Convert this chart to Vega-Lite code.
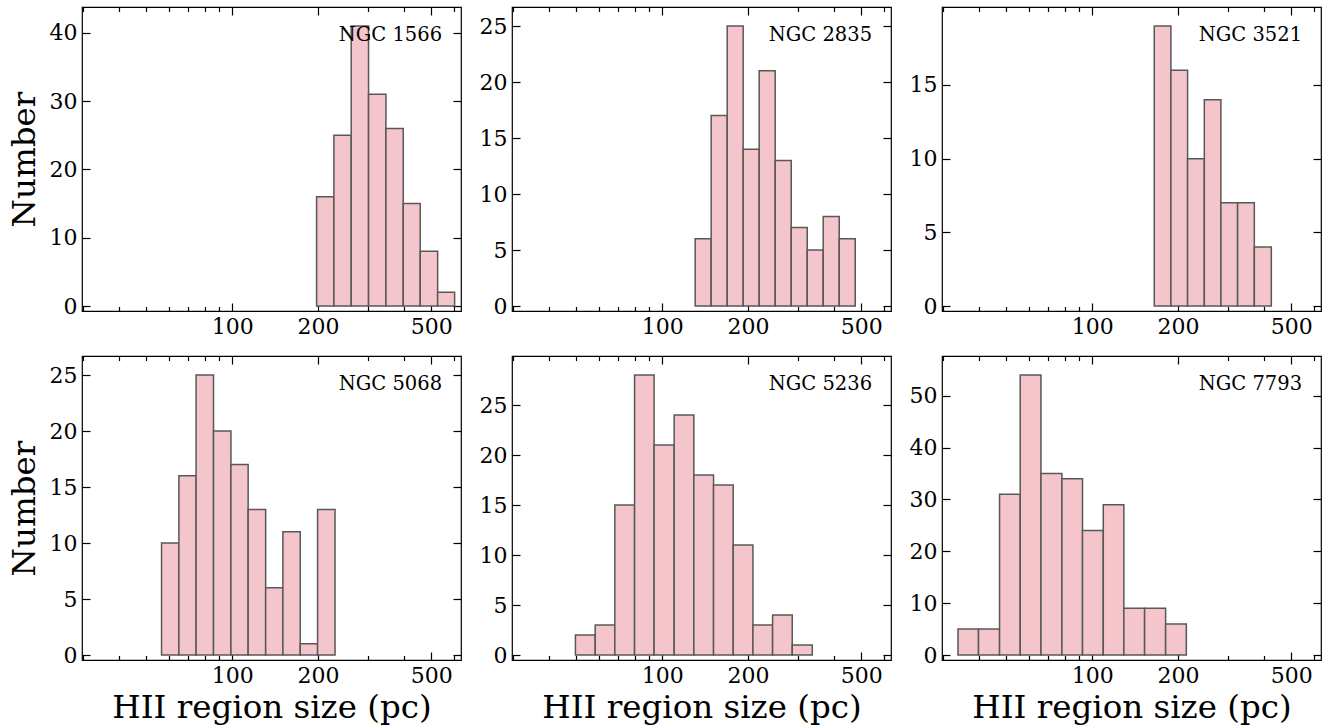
{
 "$schema": "https://vega.github.io/schema/vega-lite/v6.json",
 "background": "white",
 "padding": {"left": 7, "top": 5, "right": 5, "bottom": 5},
 "config": {
  "font": "DejaVu Serif",
  "view": {"stroke": "#000", "strokeWidth": 1.2},
  "axis": {"grid": false, "domain": false, "tickColor": "#000", "tickWidth": 1.2, "tickSize": -8, "labelFont": "DejaVu Serif", "labelFontSize": 22, "labelColor": "#000", "labelPadding": 13, "titleFont": "DejaVu Serif", "titleFontSize": 32.5, "titleFontWeight": "normal", "titleColor": "#000", "titlePadding": 8},
  "axisBottom": {"titlePadding": 5}
 },
 "datasets": {
  "d1": [{"lo":197.9,"hi":227.6,"n":16},{"lo":227.6,"hi":261.8,"n":25},{"lo":261.8,"hi":301.2,"n":41},{"lo":301.2,"hi":346.6,"n":31},{"lo":346.6,"hi":398.7,"n":26},{"lo":398.7,"hi":457.4,"n":15},{"lo":457.4,"hi":526.6,"n":8},{"lo":526.6,"hi":604,"n":2}],
  "d2": [{"lo":130.6,"hi":148.6,"n":6},{"lo":148.6,"hi":169.2,"n":17},{"lo":169.2,"hi":192.5,"n":25},{"lo":192.5,"hi":219.1,"n":14},{"lo":219.1,"hi":249.4,"n":21},{"lo":249.4,"hi":283.9,"n":13},{"lo":283.9,"hi":323.1,"n":7},{"lo":323.1,"hi":367.7,"n":5},{"lo":367.7,"hi":418.5,"n":8},{"lo":418.5,"hi":476.3,"n":6}],
  "d3": [{"lo":165.2,"hi":189.0,"n":19},{"lo":189.0,"hi":216.3,"n":16},{"lo":216.3,"hi":247.6,"n":10},{"lo":247.6,"hi":283.1,"n":14},{"lo":283.1,"hi":324.1,"n":7},{"lo":324.1,"hi":371.0,"n":7},{"lo":371.0,"hi":425.6,"n":4}],
  "d4": [{"lo":56.5,"hi":65.0,"n":10},{"lo":65.0,"hi":74.7,"n":16},{"lo":74.7,"hi":86.0,"n":25},{"lo":86.0,"hi":99.0,"n":20},{"lo":99.0,"hi":113.8,"n":17},{"lo":113.8,"hi":131.1,"n":13},{"lo":131.1,"hi":150.7,"n":6},{"lo":150.7,"hi":173.4,"n":11},{"lo":173.4,"hi":199.5,"n":1},{"lo":199.5,"hi":229.7,"n":13}],
  "d5": [{"lo":49.6,"hi":58.2,"n":2},{"lo":58.2,"hi":68.2,"n":3},{"lo":68.2,"hi":80.0,"n":15},{"lo":80.0,"hi":93.7,"n":28},{"lo":93.7,"hi":110.2,"n":21},{"lo":110.2,"hi":129.2,"n":24},{"lo":129.2,"hi":151.5,"n":18},{"lo":151.5,"hi":177.6,"n":17},{"lo":177.6,"hi":208.3,"n":11},{"lo":208.3,"hi":244.2,"n":3},{"lo":244.2,"hi":286.2,"n":4},{"lo":286.2,"hi":336.5,"n":1}],
  "d6": [{"lo":33.8,"hi":39.9,"n":5},{"lo":39.9,"hi":47.3,"n":5},{"lo":47.3,"hi":55.9,"n":31},{"lo":55.9,"hi":66.1,"n":54},{"lo":66.1,"hi":78.3,"n":35},{"lo":78.3,"hi":92.5,"n":34},{"lo":92.5,"hi":109.4,"n":24},{"lo":109.4,"hi":129.2,"n":29},{"lo":129.2,"hi":152.8,"n":9},{"lo":152.8,"hi":181.1,"n":9},{"lo":181.1,"hi":214.1,"n":6}]
 },
 "columns": 3,
 "spacing": {"row": 45, "column": 51},
 "bounds": "flush",
 "concat": [
  {"width": 379, "height": 304, "data": {"name": "d1"},
   "layer": [
    {"mark": {"type": "bar", "fill": "#f5c5cc", "stroke": "#585858", "strokeWidth": 1.5},
     "encoding": {"x": {"field": "lo", "type": "quantitative", "scale": {"type": "log", "domain": [29.7, 636], "nice": false}, "axis": {"orient": "bottom", "values": [100, 200, 500], "format": "d", "title": null}},
      "x2": {"field": "hi"},
      "y": {"field": "n", "type": "quantitative", "scale": {"domain": [0, 43.05], "nice": false}, "axis": {"orient": "left", "values": [0, 10, 20, 30, 40], "format": "d", "title": "Number"}},
      "y2": {"datum": 0}}},
    {"mark": {"type": "bar", "opacity": 0},
     "encoding": {"x": {"field": "lo", "type": "quantitative", "scale": {"type": "log", "domain": [29.7, 636], "nice": false}, "axis": {"orient": "bottom", "values": [30, 40, 50, 60, 70, 80, 90, 300, 400, 600], "labels": false, "tickSize": -4.5, "title": null}},
      "x2": {"field": "hi"},
      "y": {"field": "n", "type": "quantitative", "scale": {"domain": [0, 43.05], "nice": false}, "axis": {"orient": "right", "values": [0, 10, 20, 30, 40], "labels": false, "title": null}}}},
    {"mark": {"type": "bar", "opacity": 0},
     "encoding": {"x": {"field": "lo", "type": "quantitative", "scale": {"type": "log", "domain": [29.7, 636], "nice": false}, "axis": {"orient": "top", "values": [100, 200, 500], "labels": false, "title": null}},
      "x2": {"field": "hi"},
      "y": {"field": "n", "type": "quantitative", "scale": {"domain": [0, 43.05], "nice": false}, "axis": null}}},
    {"mark": {"type": "bar", "opacity": 0},
     "encoding": {"x": {"field": "lo", "type": "quantitative", "scale": {"type": "log", "domain": [29.7, 636], "nice": false}, "axis": {"orient": "top", "values": [30, 40, 50, 60, 70, 80, 90, 300, 400, 600], "labels": false, "tickSize": -4.5, "title": null}},
      "x2": {"field": "hi"},
      "y": {"field": "n", "type": "quantitative", "scale": {"domain": [0, 43.05], "nice": false}, "axis": null}}},
    {"data": {"values": [{"g": "NGC 1566"}]},
     "mark": {"type": "text", "align": "right", "baseline": "alphabetic", "font": "DejaVu Serif", "fontSize": 19.5, "color": "#000"},
     "encoding": {"x": {"datum": 545.8, "type": "quantitative", "scale": {"type": "log", "domain": [29.7, 636], "nice": false}, "axis": null},
      "y": {"datum": 38.8, "type": "quantitative", "scale": {"domain": [0, 43.05], "nice": false}, "axis": null},
      "text": {"field": "g"}}}
   ],
   "resolve": {"axis": {"x": "independent", "y": "independent"}}},
  {"width": 379, "height": 304, "data": {"name": "d2"},
   "layer": [
    {"mark": {"type": "bar", "fill": "#f5c5cc", "stroke": "#585858", "strokeWidth": 1.5},
     "encoding": {"x": {"field": "lo", "type": "quantitative", "scale": {"type": "log", "domain": [29.7, 636], "nice": false}, "axis": {"orient": "bottom", "values": [100, 200, 500], "format": "d", "title": null}},
      "x2": {"field": "hi"},
      "y": {"field": "n", "type": "quantitative", "scale": {"domain": [0, 26.25], "nice": false}, "axis": {"orient": "left", "values": [0, 5, 10, 15, 20, 25], "format": "d", "title": null}},
      "y2": {"datum": 0}}},
    {"mark": {"type": "bar", "opacity": 0},
     "encoding": {"x": {"field": "lo", "type": "quantitative", "scale": {"type": "log", "domain": [29.7, 636], "nice": false}, "axis": {"orient": "bottom", "values": [30, 40, 50, 60, 70, 80, 90, 300, 400, 600], "labels": false, "tickSize": -4.5, "title": null}},
      "x2": {"field": "hi"},
      "y": {"field": "n", "type": "quantitative", "scale": {"domain": [0, 26.25], "nice": false}, "axis": {"orient": "right", "values": [0, 5, 10, 15, 20, 25], "labels": false, "title": null}}}},
    {"mark": {"type": "bar", "opacity": 0},
     "encoding": {"x": {"field": "lo", "type": "quantitative", "scale": {"type": "log", "domain": [29.7, 636], "nice": false}, "axis": {"orient": "top", "values": [100, 200, 500], "labels": false, "title": null}},
      "x2": {"field": "hi"},
      "y": {"field": "n", "type": "quantitative", "scale": {"domain": [0, 26.25], "nice": false}, "axis": null}}},
    {"mark": {"type": "bar", "opacity": 0},
     "encoding": {"x": {"field": "lo", "type": "quantitative", "scale": {"type": "log", "domain": [29.7, 636], "nice": false}, "axis": {"orient": "top", "values": [30, 40, 50, 60, 70, 80, 90, 300, 400, 600], "labels": false, "tickSize": -4.5, "title": null}},
      "x2": {"field": "hi"},
      "y": {"field": "n", "type": "quantitative", "scale": {"domain": [0, 26.25], "nice": false}, "axis": null}}},
    {"data": {"values": [{"g": "NGC 2835"}]},
     "mark": {"type": "text", "align": "right", "baseline": "alphabetic", "font": "DejaVu Serif", "fontSize": 19.5, "color": "#000"},
     "encoding": {"x": {"datum": 545.8, "type": "quantitative", "scale": {"type": "log", "domain": [29.7, 636], "nice": false}, "axis": null},
      "y": {"datum": 23.65, "type": "quantitative", "scale": {"domain": [0, 26.25], "nice": false}, "axis": null},
      "text": {"field": "g"}}}
   ],
   "resolve": {"axis": {"x": "independent", "y": "independent"}}},
  {"width": 379, "height": 304, "data": {"name": "d3"},
   "layer": [
    {"mark": {"type": "bar", "fill": "#f5c5cc", "stroke": "#585858", "strokeWidth": 1.5},
     "encoding": {"x": {"field": "lo", "type": "quantitative", "scale": {"type": "log", "domain": [29.7, 636], "nice": false}, "axis": {"orient": "bottom", "values": [100, 200, 500], "format": "d", "title": null}},
      "x2": {"field": "hi"},
      "y": {"field": "n", "type": "quantitative", "scale": {"domain": [0, 19.95], "nice": false}, "axis": {"orient": "left", "values": [0, 5, 10, 15], "format": "d", "title": null}},
      "y2": {"datum": 0}}},
    {"mark": {"type": "bar", "opacity": 0},
     "encoding": {"x": {"field": "lo", "type": "quantitative", "scale": {"type": "log", "domain": [29.7, 636], "nice": false}, "axis": {"orient": "bottom", "values": [30, 40, 50, 60, 70, 80, 90, 300, 400, 600], "labels": false, "tickSize": -4.5, "title": null}},
      "x2": {"field": "hi"},
      "y": {"field": "n", "type": "quantitative", "scale": {"domain": [0, 19.95], "nice": false}, "axis": {"orient": "right", "values": [0, 5, 10, 15], "labels": false, "title": null}}}},
    {"mark": {"type": "bar", "opacity": 0},
     "encoding": {"x": {"field": "lo", "type": "quantitative", "scale": {"type": "log", "domain": [29.7, 636], "nice": false}, "axis": {"orient": "top", "values": [100, 200, 500], "labels": false, "title": null}},
      "x2": {"field": "hi"},
      "y": {"field": "n", "type": "quantitative", "scale": {"domain": [0, 19.95], "nice": false}, "axis": null}}},
    {"mark": {"type": "bar", "opacity": 0},
     "encoding": {"x": {"field": "lo", "type": "quantitative", "scale": {"type": "log", "domain": [29.7, 636], "nice": false}, "axis": {"orient": "top", "values": [30, 40, 50, 60, 70, 80, 90, 300, 400, 600], "labels": false, "tickSize": -4.5, "title": null}},
      "x2": {"field": "hi"},
      "y": {"field": "n", "type": "quantitative", "scale": {"domain": [0, 19.95], "nice": false}, "axis": null}}},
    {"data": {"values": [{"g": "NGC 3521"}]},
     "mark": {"type": "text", "align": "right", "baseline": "alphabetic", "font": "DejaVu Serif", "fontSize": 19.5, "color": "#000"},
     "encoding": {"x": {"datum": 545.8, "type": "quantitative", "scale": {"type": "log", "domain": [29.7, 636], "nice": false}, "axis": null},
      "y": {"datum": 17.97, "type": "quantitative", "scale": {"domain": [0, 19.95], "nice": false}, "axis": null},
      "text": {"field": "g"}}}
   ],
   "resolve": {"axis": {"x": "independent", "y": "independent"}}},
  {"width": 379, "height": 304, "data": {"name": "d4"},
   "layer": [
    {"mark": {"type": "bar", "fill": "#f5c5cc", "stroke": "#585858", "strokeWidth": 1.5},
     "encoding": {"x": {"field": "lo", "type": "quantitative", "scale": {"type": "log", "domain": [29.7, 636], "nice": false}, "axis": {"orient": "bottom", "values": [100, 200, 500], "format": "d", "title": "HII region size (pc)"}},
      "x2": {"field": "hi"},
      "y": {"field": "n", "type": "quantitative", "scale": {"domain": [0, 26.25], "nice": false}, "axis": {"orient": "left", "values": [0, 5, 10, 15, 20, 25], "format": "d", "title": "Number"}},
      "y2": {"datum": 0}}},
    {"mark": {"type": "bar", "opacity": 0},
     "encoding": {"x": {"field": "lo", "type": "quantitative", "scale": {"type": "log", "domain": [29.7, 636], "nice": false}, "axis": {"orient": "bottom", "values": [30, 40, 50, 60, 70, 80, 90, 300, 400, 600], "labels": false, "tickSize": -4.5, "title": null}},
      "x2": {"field": "hi"},
      "y": {"field": "n", "type": "quantitative", "scale": {"domain": [0, 26.25], "nice": false}, "axis": {"orient": "right", "values": [0, 5, 10, 15, 20, 25], "labels": false, "title": null}}}},
    {"mark": {"type": "bar", "opacity": 0},
     "encoding": {"x": {"field": "lo", "type": "quantitative", "scale": {"type": "log", "domain": [29.7, 636], "nice": false}, "axis": {"orient": "top", "values": [100, 200, 500], "labels": false, "title": null}},
      "x2": {"field": "hi"},
      "y": {"field": "n", "type": "quantitative", "scale": {"domain": [0, 26.25], "nice": false}, "axis": null}}},
    {"mark": {"type": "bar", "opacity": 0},
     "encoding": {"x": {"field": "lo", "type": "quantitative", "scale": {"type": "log", "domain": [29.7, 636], "nice": false}, "axis": {"orient": "top", "values": [30, 40, 50, 60, 70, 80, 90, 300, 400, 600], "labels": false, "tickSize": -4.5, "title": null}},
      "x2": {"field": "hi"},
      "y": {"field": "n", "type": "quantitative", "scale": {"domain": [0, 26.25], "nice": false}, "axis": null}}},
    {"data": {"values": [{"g": "NGC 5068"}]},
     "mark": {"type": "text", "align": "right", "baseline": "alphabetic", "font": "DejaVu Serif", "fontSize": 19.5, "color": "#000"},
     "encoding": {"x": {"datum": 545.8, "type": "quantitative", "scale": {"type": "log", "domain": [29.7, 636], "nice": false}, "axis": null},
      "y": {"datum": 23.65, "type": "quantitative", "scale": {"domain": [0, 26.25], "nice": false}, "axis": null},
      "text": {"field": "g"}}}
   ],
   "resolve": {"axis": {"x": "independent", "y": "independent"}}},
  {"width": 379, "height": 304, "data": {"name": "d5"},
   "layer": [
    {"mark": {"type": "bar", "fill": "#f5c5cc", "stroke": "#585858", "strokeWidth": 1.5},
     "encoding": {"x": {"field": "lo", "type": "quantitative", "scale": {"type": "log", "domain": [29.7, 636], "nice": false}, "axis": {"orient": "bottom", "values": [100, 200, 500], "format": "d", "title": "HII region size (pc)"}},
      "x2": {"field": "hi"},
      "y": {"field": "n", "type": "quantitative", "scale": {"domain": [0, 29.4], "nice": false}, "axis": {"orient": "left", "values": [0, 5, 10, 15, 20, 25], "format": "d", "title": null}},
      "y2": {"datum": 0}}},
    {"mark": {"type": "bar", "opacity": 0},
     "encoding": {"x": {"field": "lo", "type": "quantitative", "scale": {"type": "log", "domain": [29.7, 636], "nice": false}, "axis": {"orient": "bottom", "values": [30, 40, 50, 60, 70, 80, 90, 300, 400, 600], "labels": false, "tickSize": -4.5, "title": null}},
      "x2": {"field": "hi"},
      "y": {"field": "n", "type": "quantitative", "scale": {"domain": [0, 29.4], "nice": false}, "axis": {"orient": "right", "values": [0, 5, 10, 15, 20, 25], "labels": false, "title": null}}}},
    {"mark": {"type": "bar", "opacity": 0},
     "encoding": {"x": {"field": "lo", "type": "quantitative", "scale": {"type": "log", "domain": [29.7, 636], "nice": false}, "axis": {"orient": "top", "values": [100, 200, 500], "labels": false, "title": null}},
      "x2": {"field": "hi"},
      "y": {"field": "n", "type": "quantitative", "scale": {"domain": [0, 29.4], "nice": false}, "axis": null}}},
    {"mark": {"type": "bar", "opacity": 0},
     "encoding": {"x": {"field": "lo", "type": "quantitative", "scale": {"type": "log", "domain": [29.7, 636], "nice": false}, "axis": {"orient": "top", "values": [30, 40, 50, 60, 70, 80, 90, 300, 400, 600], "labels": false, "tickSize": -4.5, "title": null}},
      "x2": {"field": "hi"},
      "y": {"field": "n", "type": "quantitative", "scale": {"domain": [0, 29.4], "nice": false}, "axis": null}}},
    {"data": {"values": [{"g": "NGC 5236"}]},
     "mark": {"type": "text", "align": "right", "baseline": "alphabetic", "font": "DejaVu Serif", "fontSize": 19.5, "color": "#000"},
     "encoding": {"x": {"datum": 545.8, "type": "quantitative", "scale": {"type": "log", "domain": [29.7, 636], "nice": false}, "axis": null},
      "y": {"datum": 26.49, "type": "quantitative", "scale": {"domain": [0, 29.4], "nice": false}, "axis": null},
      "text": {"field": "g"}}}
   ],
   "resolve": {"axis": {"x": "independent", "y": "independent"}}},
  {"width": 379, "height": 304, "data": {"name": "d6"},
   "layer": [
    {"mark": {"type": "bar", "fill": "#f5c5cc", "stroke": "#585858", "strokeWidth": 1.5},
     "encoding": {"x": {"field": "lo", "type": "quantitative", "scale": {"type": "log", "domain": [29.7, 636], "nice": false}, "axis": {"orient": "bottom", "values": [100, 200, 500], "format": "d", "title": "HII region size (pc)"}},
      "x2": {"field": "hi"},
      "y": {"field": "n", "type": "quantitative", "scale": {"domain": [0, 56.7], "nice": false}, "axis": {"orient": "left", "values": [0, 10, 20, 30, 40, 50], "format": "d", "title": null}},
      "y2": {"datum": 0}}},
    {"mark": {"type": "bar", "opacity": 0},
     "encoding": {"x": {"field": "lo", "type": "quantitative", "scale": {"type": "log", "domain": [29.7, 636], "nice": false}, "axis": {"orient": "bottom", "values": [30, 40, 50, 60, 70, 80, 90, 300, 400, 600], "labels": false, "tickSize": -4.5, "title": null}},
      "x2": {"field": "hi"},
      "y": {"field": "n", "type": "quantitative", "scale": {"domain": [0, 56.7], "nice": false}, "axis": {"orient": "right", "values": [0, 10, 20, 30, 40, 50], "labels": false, "title": null}}}},
    {"mark": {"type": "bar", "opacity": 0},
     "encoding": {"x": {"field": "lo", "type": "quantitative", "scale": {"type": "log", "domain": [29.7, 636], "nice": false}, "axis": {"orient": "top", "values": [100, 200, 500], "labels": false, "title": null}},
      "x2": {"field": "hi"},
      "y": {"field": "n", "type": "quantitative", "scale": {"domain": [0, 56.7], "nice": false}, "axis": null}}},
    {"mark": {"type": "bar", "opacity": 0},
     "encoding": {"x": {"field": "lo", "type": "quantitative", "scale": {"type": "log", "domain": [29.7, 636], "nice": false}, "axis": {"orient": "top", "values": [30, 40, 50, 60, 70, 80, 90, 300, 400, 600], "labels": false, "tickSize": -4.5, "title": null}},
      "x2": {"field": "hi"},
      "y": {"field": "n", "type": "quantitative", "scale": {"domain": [0, 56.7], "nice": false}, "axis": null}}},
    {"data": {"values": [{"g": "NGC 7793"}]},
     "mark": {"type": "text", "align": "right", "baseline": "alphabetic", "font": "DejaVu Serif", "fontSize": 19.5, "color": "#000"},
     "encoding": {"x": {"datum": 545.8, "type": "quantitative", "scale": {"type": "log", "domain": [29.7, 636], "nice": false}, "axis": null},
      "y": {"datum": 51.09, "type": "quantitative", "scale": {"domain": [0, 56.7], "nice": false}, "axis": null},
      "text": {"field": "g"}}}
   ],
   "resolve": {"axis": {"x": "independent", "y": "independent"}}}
 ]
}
